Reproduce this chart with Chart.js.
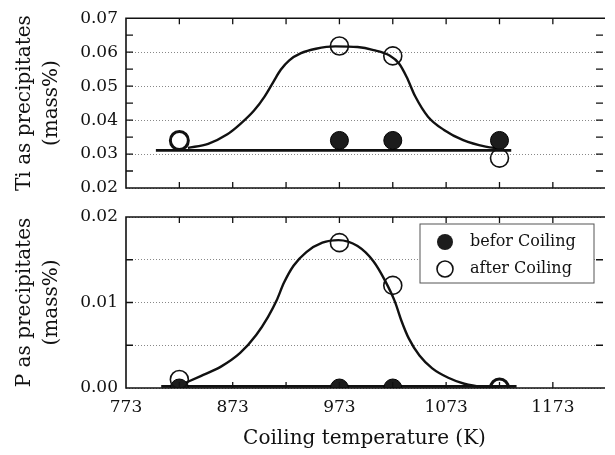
<!DOCTYPE html>
<html>
<head>
<meta charset="utf-8">
<script src="https://cdn.jsdelivr.net/npm/chart.js@4"></script>
<style>
html, body { margin: 0; padding: 0; background: #fff; }
#wrap { position: relative; width: 615px; height: 455px; }
canvas { position: absolute; left: 0; top: 0; }
</style>
</head>
<body>
<div id="wrap">
  <canvas id="grafico-p" width="615" height="455"></canvas>
  <canvas id="grafico-ti" width="615" height="455"></canvas>
</div>
<script>
// measured points
const temps = [823, 973, 1023, 1123];
const tiBefore = [null, 0.034, 0.034, 0.034];
const tiAfter = [0.034, 0.0618, 0.0589, 0.0288];
const pBefore = [0, 0, 0, null];
const pAfter = [0.001, 0.017, 0.012, 0];

// hand drawn trend curves
const tiCurveT = [831, 850, 868, 880, 893, 903, 911, 918, 926, 937, 951, 969, 990, 1005, 1020, 1029, 1036, 1044, 1056, 1071, 1089, 1110, 1124];
const tiCurve = [0.0318, 0.0330, 0.0358, 0.0388, 0.0428, 0.0470, 0.0512, 0.0548, 0.0576, 0.0597, 0.0610, 0.0617, 0.0615, 0.0606, 0.0590, 0.0566, 0.0527, 0.0470, 0.0410, 0.0371, 0.0341, 0.0322, 0.0316];
const pCurveT = [825, 843, 862, 880, 895, 906, 914, 921, 930, 942, 957, 972, 990, 1005, 1016, 1025, 1031, 1038, 1048, 1060, 1075, 1090, 1108, 1122];
const pCurve = [0.0004, 0.0014, 0.0025, 0.0041, 0.0062, 0.0083, 0.0102, 0.0123, 0.0143, 0.0159, 0.0170, 0.0173, 0.0166, 0.0148, 0.0125, 0.0101, 0.0079, 0.0058, 0.0038, 0.0023, 0.0012, 0.0005, 0.0001, 0.0];

// flat lines (before coiling level)
const tiBaseT = [801, 1134];
const tiBase = [0.0311, 0.0311];
const pBaseT = [806, 1139];
const pBase = [0.0002, 0.0002];

// axes
const xTicks = [773, 873, 973, 1073, 1173];
const tiTicks = [0.02, 0.03, 0.04, 0.05, 0.06, 0.07];
const pTicks = [0, 0.005, 0.01, 0.015, 0.02];
const pTickLabels = ['0.00', '', '0.01', '', '0.02'];

Chart.defaults.font.family = 'DejaVu Serif';
Chart.defaults.color = '#111';

function pts(xs, ys) {
    return xs.map((x, i) => ({x: x, y: ys[i]})).filter(p => p.y !== null);
}

// frame + inward ticks
const frame = {
    id: 'frame',
    afterDraw(chart, args, opts) {
        const ctx = chart.ctx, ca = chart.chartArea;
        const xs = chart.scales.x, ys = chart.scales.y;
        ctx.save();
        ctx.strokeStyle = '#111';
        ctx.lineWidth = 1.6;
        ctx.beginPath();
        ctx.moveTo(ca.right + 2, ca.top); ctx.lineTo(ca.left, ca.top);
        ctx.lineTo(ca.left, ca.bottom); ctx.lineTo(ca.right + 2, ca.bottom);
        ctx.stroke();
        ctx.lineWidth = 1.3;
        ctx.beginPath();
        for (let v = 823; v < xs.max; v += 50) {
            const px = xs.getPixelForValue(v);
            ctx.moveTo(px, ca.top); ctx.lineTo(px, ca.top + 6);
            ctx.moveTo(px, ca.bottom); ctx.lineTo(px, ca.bottom - 6);
        }
        for (let v = ys.min + opts.step; v < ys.max - 1e-9; v += opts.step) {
            const py = ys.getPixelForValue(v);
            ctx.moveTo(ca.left, py); ctx.lineTo(ca.left + 7, py);
            ctx.moveTo(ca.right, py); ctx.lineTo(ca.right - 7, py);
        }
        ctx.stroke();
        if (opts.legend) {
            const lx = ca.right - 183, ly = ca.top + 7;
            ctx.lineWidth = 1;
            ctx.strokeStyle = '#555';
            ctx.fillStyle = '#fff';
            ctx.fillRect(lx, ly, 174, 59);
            ctx.strokeRect(lx, ly, 174, 59);
            ctx.beginPath();
            ctx.arc(lx + 25, ly + 18, 8, 0, Math.PI * 2);
            ctx.fillStyle = '#1c1c1c';
            ctx.fill();
            ctx.beginPath();
            ctx.arc(lx + 25, ly + 45, 8, 0, Math.PI * 2);
            ctx.strokeStyle = '#111';
            ctx.lineWidth = 1.6;
            ctx.stroke();
            ctx.fillStyle = '#111';
            ctx.font = '16px "DejaVu Serif"';
            ctx.textBaseline = 'middle';
            ctx.fillText('befor Coiling', lx + 50, ly + 18);
            ctx.fillText('after Coiling', lx + 50, ly + 45);
        }
        ctx.restore();
    }
};

function criarGrafico(id, cfg) {
    const ctx = document.getElementById(id).getContext('2d');
    return new Chart(ctx, {
        type: 'scatter',
        data: {
            datasets: [{
                label: 'after Coiling',
                data: pts(temps, cfg.after),
                backgroundColor: 'rgba(255,255,255,0)',
                borderColor: '#111',
                pointRadius: 9,
                pointBorderWidth: cfg.afterWidth,
                order: 0
            }, {
                label: 'befor Coiling',
                data: pts(temps, cfg.before),
                backgroundColor: '#1c1c1c',
                borderColor: '#000',
                pointRadius: 9,
                pointBorderWidth: 1,
                order: 1
            }, {
                label: 'curve',
                data: pts(cfg.curveT, cfg.curve),
                showLine: true,
                borderColor: '#111',
                borderWidth: 2.4,
                pointRadius: 0,
                cubicInterpolationMode: 'monotone',
                order: 2
            }, {
                label: 'base',
                data: pts(cfg.baseT, cfg.base),
                showLine: true,
                borderColor: '#111',
                borderWidth: 2.8,
                pointRadius: 0,
                order: 3
            }]
        },
        options: {
            responsive: false,
            animation: false,
            layout: {padding: cfg.padding},
            plugins: {
                legend: {display: false},
                tooltip: {enabled: false},
                frame: {step: 0.005, legend: cfg.legend}
            },
            scales: {
                x: {
                    type: 'linear',
                    min: 773,
                    max: 1220,
                    display: cfg.showX,
                    afterBuildTicks: s => { s.ticks = xTicks.map(v => ({value: v})); },
                    afterFit: s => { if (cfg.showX) s.height = 67; },
                    grid: {display: false, drawTicks: false},
                    border: {display: false},
                    ticks: {font: {size: 17}, padding: 9, maxRotation: 0, autoSkip: false, callback: v => String(v)},
                    title: {
                        display: true,
                        text: 'Coiling temperature (K)',
                        font: {size: 20},
                        padding: {top: 0, bottom: 4}
                    }
                },
                y: {
                    min: cfg.yMin,
                    max: cfg.yMax,
                    afterBuildTicks: s => { s.ticks = cfg.yTicks.map(v => ({value: v})); },
                    afterFit: s => { s.width = 126; },
                    grid: {color: '#888', lineWidth: 1, drawTicks: false},
                    border: {display: false, dash: [1, 2]},
                    ticks: {font: {size: 17}, padding: 8, autoSkip: false, callback: cfg.yLabel},
                    title: {
                        display: true,
                        text: cfg.yTitle,
                        font: {size: 20, lineHeight: 1.35},
                        padding: {top: 11, bottom: 0}
                    }
                }
            }
        },
        plugins: [frame]
    });
}

criarGrafico('grafico-ti', {
    before: tiBefore, after: tiAfter, afterWidth: [3, 1.6, 1.6, 1.6],
    curveT: tiCurveT, curve: tiCurve, baseT: tiBaseT, base: tiBase,
    yMin: 0.02, yMax: 0.07, yTicks: tiTicks, yLabel: v => v.toFixed(2),
    yTitle: ['Ti as precipitates', '(mass%)'],
    padding: {top: 17, bottom: 267, left: 0, right: 0},
    showX: false, legend: false
});

criarGrafico('grafico-p', {
    before: pBefore, after: pAfter, afterWidth: [1.6, 1.6, 1.6, 3],
    curveT: pCurveT, curve: pCurve, baseT: pBaseT, base: pBase,
    yMin: 0, yMax: 0.02, yTicks: pTicks, yLabel: (v, i) => pTickLabels[i],
    yTitle: ['P as precipitates', '(mass%)'],
    padding: {top: 217, bottom: 0, left: 0, right: 0},
    showX: true, legend: true
});
</script>
</body>
</html>
